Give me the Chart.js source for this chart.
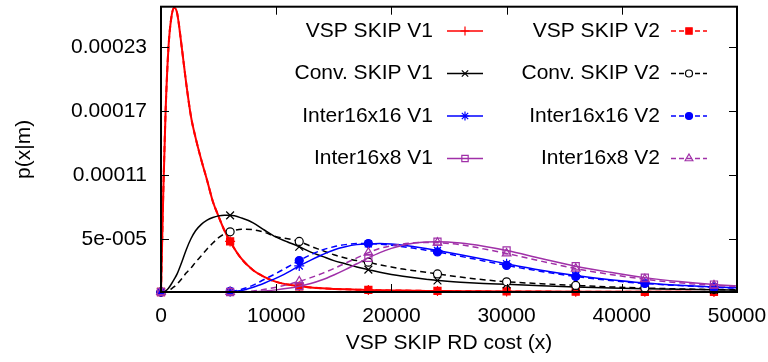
<!DOCTYPE html>
<html>
<head>
<meta charset="utf-8">
<title>p(x|m) vs VSP SKIP RD cost</title>
<script src="https://cdn.jsdelivr.net/npm/chart.js@4.4.1/dist/chart.umd.min.js"></script>
<style>
  html, body { margin: 0; padding: 0; background: #ffffff; }
</style>
</head>
<body>
<canvas id="pdfChart" width="768" height="362"></canvas>
<script>
// RD cost sample positions (x)
const costX = [0, 200, 400, 650, 900, 1150, 1400, 1800, 2200, 2600,
  3000, 3500, 4000, 4500, 5000, 5500, 6000, 7000, 8000, 9000,
  10000, 11000, 12000, 13000, 14000, 15000, 16000, 17000, 18000, 19000,
  20000, 21000, 22000, 23000, 24000, 26000, 28000, 30000, 33000, 36000,
  39000, 42000, 45000, 48000, 50000];

// p(x|m)
const vspV1 = [0, 94e-6, 170e-6, 230e-6, 258e-6, 267e-6, 262e-6, 230e-6, 195e-6, 165e-6,
  145e-6, 124e-6, 105e-6, 85e-6, 71e-6, 58e-6, 47.5e-6, 31e-6, 20.5e-6, 14e-6,
  9.5e-6, 7e-6, 5.4e-6, 4.3e-6, 3.5e-6, 2.9e-6, 2.5e-6, 2.2e-6, 1.9e-6, 1.7e-6,
  1.5e-6, 1.35e-6, 1.2e-6, 1.05e-6, 0.95e-6, 0.8e-6, 0.6e-6, 0.5e-6, 0.38e-6, 0.3e-6,
  0.22e-6, 0.17e-6, 0.13e-6, 0.1e-6, 0.08e-6];
const vspV2 = [0, 94e-6, 170e-6, 230e-6, 258e-6, 267e-6, 262e-6, 230e-6, 195e-6, 165e-6,
  145e-6, 124e-6, 105e-6, 85e-6, 71e-6, 58e-6, 47.5e-6, 31e-6, 20.5e-6, 14e-6,
  9.5e-6, 7e-6, 5.4e-6, 4.3e-6, 3.5e-6, 2.9e-6, 2.5e-6, 2.2e-6, 1.9e-6, 1.7e-6,
  1.5e-6, 1.35e-6, 1.2e-6, 1.05e-6, 0.95e-6, 0.8e-6, 0.6e-6, 0.5e-6, 0.38e-6, 0.3e-6,
  0.22e-6, 0.17e-6, 0.13e-6, 0.1e-6, 0.08e-6];
const convV1 = [0, 0.1e-6, 1e-6, 3.5e-6, 7.5e-6, 12e-6, 17e-6, 28e-6, 40e-6, 50e-6,
  57.5e-6, 63.5e-6, 67.5e-6, 70e-6, 71.5e-6, 72e-6, 72e-6, 69.5e-6, 65e-6, 58e-6,
  51.5e-6, 47e-6, 42.5e-6, 37.5e-6, 33.5e-6, 29.5e-6, 26.5e-6, 23.5e-6, 21e-6, 18.5e-6,
  16.5e-6, 14.8e-6, 13.3e-6, 12e-6, 10.8e-6, 9.2e-6, 8e-6, 7.2e-6, 5.8e-6, 4.6e-6,
  3.8e-6, 3.1e-6, 2.5e-6, 2e-6, 1.7e-6];
const convV2 = [0, 0, 0.4e-6, 1.2e-6, 3e-6, 5e-6, 7.5e-6, 12.5e-6, 18e-6, 22.5e-6,
  28e-6, 34e-6, 40.5e-6, 46e-6, 51e-6, 54.5e-6, 56.5e-6, 59e-6, 58.5e-6, 56e-6,
  52e-6, 50e-6, 47.5e-6, 43e-6, 39e-6, 35e-6, 32e-6, 29.5e-6, 28e-6, 25.5e-6,
  23.5e-6, 21.5e-6, 20e-6, 18.5e-6, 17e-6, 14e-6, 11.5e-6, 9.6e-6, 7.8e-6, 6.2e-6,
  4.8e-6, 3.7e-6, 2.9e-6, 2.3e-6, 2e-6];
const inter16x16V1 = [0, 0, 0, 0, 0, 0, 0, 0, 0, 0,
  0, 0, 0, 0, 0, 0.05e-6, 0.3e-6, 1.5e-6, 4.5e-6, 8.5e-6,
  13e-6, 18.5e-6, 24.5e-6, 30e-6, 35e-6, 39.5e-6, 42.5e-6, 44.5e-6, 45.2e-6, 45.5e-6,
  45e-6, 44e-6, 42.5e-6, 40.8e-6, 39e-6, 35e-6, 30.8e-6, 26.5e-6, 20.5e-6, 15.5e-6,
  11.5e-6, 8.5e-6, 6.3e-6, 4.7e-6, 3.9e-6];
const inter16x16V2 = [0, 0, 0, 0, 0, 0, 0, 0, 0, 0,
  0, 0, 0, 0, 0, 0.1e-6, 0.6e-6, 2.5e-6, 6.5e-6, 12e-6,
  17.5e-6, 23.5e-6, 29.5e-6, 35e-6, 39.5e-6, 42.5e-6, 44.5e-6, 45.5e-6, 45.5e-6, 45e-6,
  44e-6, 42.5e-6, 41e-6, 39.3e-6, 37.6e-6, 33.5e-6, 29.2e-6, 25e-6, 19.3e-6, 14.5e-6,
  10.8e-6, 8e-6, 6e-6, 4.4e-6, 3.6e-6];
const inter16x8V1 = [0, 0, 0, 0, 0, 0, 0, 0, 0, 0,
  0, 0, 0, 0, 0, 0, 0, 0, 0.3e-6, 1e-6,
  2e-6, 3.5e-6, 5.5e-6, 8e-6, 11.5e-6, 16e-6, 21e-6, 26.5e-6, 32e-6, 37e-6,
  41e-6, 44e-6, 46e-6, 47e-6, 47.3e-6, 46e-6, 43e-6, 39e-6, 31.5e-6, 24.2e-6,
  18.5e-6, 13.5e-6, 9.8e-6, 7e-6, 5.6e-6];
const inter16x8V2 = [0, 0, 0, 0, 0, 0, 0, 0, 0, 0,
  0, 0, 0, 0, 0, 0, 0, 0.3e-6, 1e-6, 2.5e-6,
  4.5e-6, 7e-6, 10e-6, 13.5e-6, 17.5e-6, 22e-6, 27e-6, 32e-6, 37e-6, 41e-6,
  43.5e-6, 45.2e-6, 46.2e-6, 46.5e-6, 46.3e-6, 44.5e-6, 40.5e-6, 36.2e-6, 29e-6, 22e-6,
  16.5e-6, 12e-6, 8.6e-6, 6.2e-6, 5e-6];

const seriesNames = ['VSP SKIP V1', 'VSP SKIP V2', 'Conv. SKIP V1', 'Conv. SKIP V2',
  'Inter16x16 V1', 'Inter16x16 V2', 'Inter16x8 V1', 'Inter16x8 V2'];
const markerX = [0, 6000, 12000, 18000, 24000, 30000, 36000, 42000, 48000];
const xTicks = [0, 10000, 20000, 30000, 40000, 50000];
const yTicks = [0.00005, 0.00011, 0.00017, 0.00023];
const yTickLabels = ['5e-005', '0.00011', '0.00017', '0.00023'];

const FONT = "'Liberation Sans', Arial, sans-serif";
const FONT_SIZE = 21;
const RED = '#ff0000', BLACK = '#000000', BLUE = '#0000ff', PURPLE = '#a030a8';
const NONE = 'rgba(0,0,0,0)';

function toPoints(ys) {
  return costX.map((x, i) => ({ x: x, y: ys[i] }));
}

// one entry per curve: values, colour, dash, marker
function makeSet(idx, ys, color, dashed, style, fill, radius, width) {
  return {
    label: seriesNames[idx],
    data: toPoints(ys),
    borderColor: color,
    backgroundColor: color,
    borderWidth: width,
    borderDash: dashed ? [6, 4] : [],
    cubicInterpolationMode: 'monotone',
    pointStyle: style,
    pointBackgroundColor: fill,
    pointBorderColor: color,
    pointBorderWidth: 1.2,
    pointRadius: ctx => (ctx.raw && markerX.includes(ctx.raw.x)) ? radius : 0,
    pointHoverRadius: 0,
    order: 10 - idx,
    clip: false
  };
}

const datasets = [
  makeSet(0, vspV1, RED, false, 'cross', NONE, 5, 2),
  makeSet(1, vspV2, RED, true, 'rect', RED, 5, 2),
  makeSet(2, convV1, BLACK, false, 'crossRot', NONE, 5.5, 1.5),
  makeSet(3, convV2, BLACK, true, 'circle', '#ffffff', 4, 1.5),
  makeSet(4, inter16x16V1, BLUE, false, 'star', NONE, 5, 1.5),
  makeSet(5, inter16x16V2, BLUE, true, 'circle', BLUE, 4, 1.5),
  makeSet(6, inter16x8V1, PURPLE, false, 'rect', NONE, 5, 1.5),
  makeSet(7, inter16x8V2, PURPLE, true, 'triangle', NONE, 5, 1.5)
];

// white background, gnuplot style frame with inward ticks, two column key
const gnuplotFrame = {
  id: 'gnuplotFrame',
  beforeDraw(chart) {
    const ctx = chart.ctx;
    ctx.save();
    ctx.fillStyle = '#ffffff';
    ctx.fillRect(0, 0, chart.width, chart.height);
    ctx.restore();
  },
  afterDatasetsDraw(chart) {
    const { ctx, chartArea: a, scales } = chart;
    const sx = scales.x, sy = scales.y;
    ctx.save();
    ctx.strokeStyle = '#000';
    ctx.lineWidth = 1;
    ctx.beginPath();
    xTicks.forEach(v => {
      const px = Math.round(sx.getPixelForValue(v)) + 0.5;
      ctx.moveTo(px, a.bottom); ctx.lineTo(px, a.bottom - 8);
      ctx.moveTo(px, a.top); ctx.lineTo(px, a.top + 8);
    });
    yTicks.forEach(v => {
      const py = Math.round(sy.getPixelForValue(v)) + 0.5;
      ctx.moveTo(a.left, py); ctx.lineTo(a.left + 8, py);
      ctx.moveTo(a.right, py); ctx.lineTo(a.right - 8, py);
    });
    ctx.stroke();
    ctx.lineWidth = 2;
    ctx.strokeRect(a.left, a.top, a.right - a.left, a.bottom - a.top);

    // key
    ctx.font = FONT_SIZE + 'px ' + FONT;
    ctx.textAlign = 'right';
    ctx.textBaseline = 'middle';
    chart.data.datasets.forEach((ds, i) => {
      const col = i % 2, row = Math.floor(i / 2);
      const textRight = col ? 660 : 433;
      const lx0 = col ? 671 : 447, lx1 = lx0 + 36;
      const yy = 31 + row * 42.5;
      ctx.fillStyle = '#000';
      ctx.fillText(ds.label, textRight, yy);
      ctx.strokeStyle = ds.borderColor;
      ctx.lineWidth = 1.5;
      ctx.setLineDash(ds.borderDash.length ? [5, 3] : []);
      ctx.beginPath();
      ctx.moveTo(lx0, yy); ctx.lineTo(lx1, yy);
      ctx.stroke();
      ctx.setLineDash([]);
      ctx.fillStyle = ds.pointBackgroundColor;
      ctx.lineWidth = 1.2;
      Chart.helpers.drawPoint(ctx, {
        pointStyle: ds.pointStyle, rotation: 0,
        radius: ds.pointStyle === 'circle' ? 3.5 : 4.5, borderWidth: 1.2
      }, (lx0 + lx1) / 2, yy);
    });
    ctx.restore();
  }
};

new Chart(document.getElementById('pdfChart').getContext('2d'), {
  type: 'line',
  data: { datasets: datasets },
  plugins: [gnuplotFrame],
  options: {
    responsive: false,
    animation: false,
    events: [],
    layout: { padding: { top: 2, right: 31, left: 0, bottom: 0 } },
    plugins: {
      legend: { display: false },
      tooltip: { enabled: false }
    },
    scales: {
      x: {
        type: 'linear',
        min: 0,
        max: 50000,
        grid: { display: false, drawTicks: false },
        border: { display: false },
        afterBuildTicks: s => { s.ticks = xTicks.map(v => ({ value: v })); },
        afterFit: s => { s.height = 70; s.paddingLeft = 0; s.paddingRight = 0; },
        ticks: {
          maxRotation: 0,
          autoSkip: false,
          padding: 12,
          color: '#000',
          font: { family: FONT, size: FONT_SIZE },
          callback: v => String(v)
        },
        title: {
          display: true,
          text: 'VSP SKIP RD cost (x)',
          color: '#000',
          font: { family: FONT, size: FONT_SIZE },
          padding: { top: 0, bottom: 6 }
        }
      },
      y: {
        type: 'linear',
        min: 0,
        max: 0.000268,
        grid: { display: false, drawTicks: false },
        border: { display: false },
        afterBuildTicks: s => { s.ticks = yTicks.map(v => ({ value: v })); },
        afterFit: s => { s.width = 161; s.paddingTop = 0; s.paddingBottom = 0; },
        ticks: {
          padding: 14,
          color: '#000',
          font: { family: FONT, size: FONT_SIZE },
          callback: (v, i) => yTickLabels[i]
        },
        title: {
          display: true,
          text: 'p(x|m)',
          color: '#000',
          font: { family: FONT, size: FONT_SIZE },
          padding: { top: 12, bottom: 0 }
        }
      }
    }
  }
});
</script>
</body>
</html>
